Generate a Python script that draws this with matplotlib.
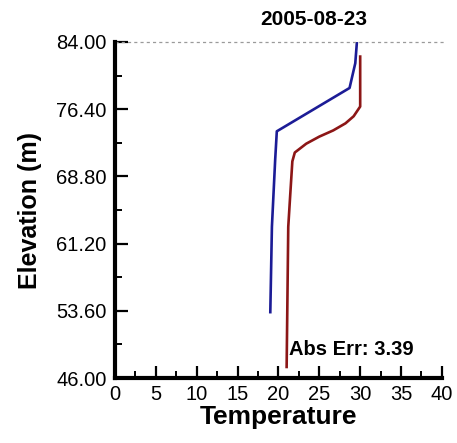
import numpy as np
import matplotlib.pyplot as plt
from matplotlib.ticker import MultipleLocator, FixedLocator

plt.rcParams['font.family'] = ['Liberation Sans', 'DejaVu Sans']

# Observed profile (blue) and modelled profile (red), temperature vs elevation
obs_temp = [29.6, 29.4, 28.7, 19.8, 19.6, 19.2, 19.0]
obs_elev = [84.0, 81.6, 78.8, 73.9, 70.7, 63.1, 53.3]

sim_temp = [30.0, 30.0, 29.2, 28.2, 26.7, 25.0, 23.4, 22.0, 21.7, 21.4, 21.2, 21.0]
sim_elev = [82.5, 76.7, 75.6, 74.8, 74.0, 73.3, 72.5, 71.5, 70.5, 66.1, 63.1, 47.1]

surface_elev = 84.0
y_ticks = [46.0, 53.6, 61.2, 68.8, 76.4, 84.0]
date_label = "2005-08-23"
abs_err = 3.39


def main():
    fig = plt.figure(figsize=(4.57, 4.43), dpi=100)
    ax = fig.add_axes([0.2516, 0.1467, 0.7154, 0.7585])

    ax.plot(obs_temp, obs_elev, color='#1c1c96', linewidth=1.9, solid_capstyle='butt')
    ax.plot(sim_temp, sim_elev, color='#8c1616', linewidth=1.9, solid_capstyle='butt')

    ax.axhline(surface_elev, color='#9a9a9a', linestyle=(0, (2.5, 2.5)), linewidth=0.9,
               xmax=1.01, clip_on=False)

    ax.set_xlim(0, 40)
    ax.set_ylim(46, 84)
    ax.xaxis.set_major_locator(MultipleLocator(5))
    ax.xaxis.set_minor_locator(MultipleLocator(2.5))
    ax.yaxis.set_major_locator(FixedLocator(y_ticks))
    ax.yaxis.set_minor_locator(FixedLocator(np.arange(46.0, 84.01, 3.8)))
    ax.set_yticklabels([f"{v:.2f}" for v in y_ticks])

    for side in ['top', 'right']:
        ax.spines[side].set_visible(False)
    for side in ['left', 'bottom']:
        ax.spines[side].set_linewidth(3.0)
        ax.spines[side].set_color('black')

    ax.tick_params(axis='both', which='major', direction='in', length=9, width=1.6,
                   labelsize=14.5, colors='black')
    ax.tick_params(axis='both', which='minor', direction='in', length=5, width=1.4)
    ax.tick_params(axis='y', which='major', pad=6)
    ax.tick_params(axis='x', which='major', pad=5)

    ax.set_xlabel('Temperature', fontsize=19, fontweight='bold', labelpad=1)
    ax.set_ylabel('Elevation (m)', fontsize=18, fontweight='bold', labelpad=10)

    ax.text(24.3, 86.6, date_label, ha='center', va='center', fontsize=15,
            fontweight='bold', clip_on=False)
    ax.text(21.3, 49.2, f"Abs Err: {abs_err:.2f}", ha='left', va='center',
            fontsize=14.5, fontweight='bold')

    fig.savefig('out.png', dpi=100)


if __name__ == "__main__":
    main()
